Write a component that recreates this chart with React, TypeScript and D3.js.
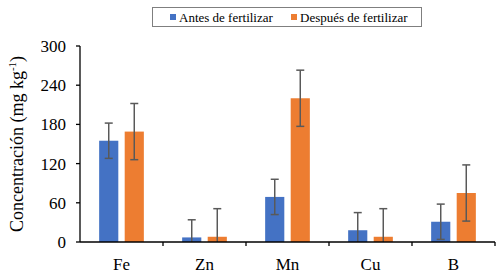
import React from "react";
import * as d3 from "d3";

const categories = ["Fe", "Zn", "Mn", "Cu", "B"];
const seriesNames = ["Antes de fertilizar", "Después de fertilizar"];
const antes = [155, 7, 69, 18, 31];
const despues = [169, 8, 220, 8, 75];
const errAntes = [27, 27, 27, 27, 27];
const errDespues = [43, 43, 43, 43, 43];
const yTicks = [0, 60, 120, 180, 240, 300];

const W = 500, H = 274;
const colors = ["#4472C4", "#ED7D31"];
const FONT = "Liberation Serif";

function T(props: any) {
  const { children, ...rest } = props;
  return (
    <text fontFamily={FONT} style={{ fontFamily: '"Liberation Serif"' }} fill="#000" {...rest}>
      {children}
    </text>
  );
}

export default function App() {
  const left = 80, right = 495, top = 46, bottom = 242;
  const x = d3.scaleBand<string>().domain(categories).range([left, right]).paddingInner(0).paddingOuter(0);
  const y = d3.scaleLinear().domain([0, 300]).range([bottom, top]);
  const sub = d3.scaleBand<number>().domain([0, 1]).range([0, x.bandwidth()]).paddingInner(0.25).paddingOuter(0.75);
  const series = [
    { vals: antes, errs: errAntes },
    { vals: despues, errs: errDespues },
  ];
  return (
    <svg width={W} height={H} style={{ position: "absolute", left: 0, top: 0, background: "#fff" }}>
      {series.map((s, si) =>
        categories.map((c, i) => {
          const bx = (x(c) as number) + (sub(si) as number);
          return (
            <rect key={`b${si}${i}`} x={bx} y={y(s.vals[i])} width={sub.bandwidth()} height={y(0) - y(s.vals[i])} fill={colors[si]} />
          );
        })
      )}
      {series.map((s, si) =>
        categories.map((c, i) => {
          const cx = (x(c) as number) + (sub(si) as number) + sub.bandwidth() / 2;
          const hi = s.vals[i] + s.errs[i];
          const loRaw = s.vals[i] - s.errs[i];
          const lo = Math.max(0, loRaw);
          return (
            <g key={`e${si}${i}`} stroke="#595959" strokeWidth={1.5}>
              <line x1={cx} x2={cx} y1={y(hi)} y2={y(lo)} />
              <line x1={cx - 4} x2={cx + 4} y1={y(hi)} y2={y(hi)} />
              {loRaw >= 0 && <line x1={cx - 4} x2={cx + 4} y1={y(lo)} y2={y(lo)} />}
            </g>
          );
        })
      )}
      <line x1={left} x2={left} y1={top} y2={bottom} stroke="#000" strokeWidth={1.3} />
      {yTicks.map((t) => (
        <g key={`yt${t}`}>
          <line x1={left - 4} x2={left} y1={y(t)} y2={y(t)} stroke="#000" strokeWidth={1.3} />
          <T x={left - 14} y={y(t)} dy="0.35em" textAnchor="end" fontSize={17}>{t}</T>
        </g>
      ))}
      <line x1={left} x2={right} y1={bottom} y2={bottom} stroke="#000" strokeWidth={1.3} />
      {categories.map((c) => (
        <g key={`xt${c}`}>
          <line x1={(x(c) as number) + x.bandwidth()} x2={(x(c) as number) + x.bandwidth()} y1={bottom} y2={bottom + 4} stroke="#000" strokeWidth={1.3} />
          <T x={(x(c) as number) + x.bandwidth() / 2} y={bottom + 22} dy="0.35em" textAnchor="middle" fontSize={17}>{c}</T>
        </g>
      ))}
      <T transform={`translate(${23},${(top + bottom) / 2}) rotate(-90)`} textAnchor="middle" fontSize={18}>
        Concentración (mg kg<tspan dy={-7} fontSize={11}>-1</tspan><tspan dy={7}>)</tspan>
      </T>
      <rect x={152.5} y={7.5} width={269} height={19} fill="#fff" stroke="#7f7f7f" strokeWidth={1} />
      <rect x={170} y={14} width={6} height={6} fill={colors[0]} />
      <T x={179} y={21.5} fontSize={13}>{seriesNames[0]}</T>
      <rect x={291} y={14} width={6} height={6} fill={colors[1]} />
      <T x={300} y={21.5} fontSize={13}>{seriesNames[1]}</T>
    </svg>
  );
}
